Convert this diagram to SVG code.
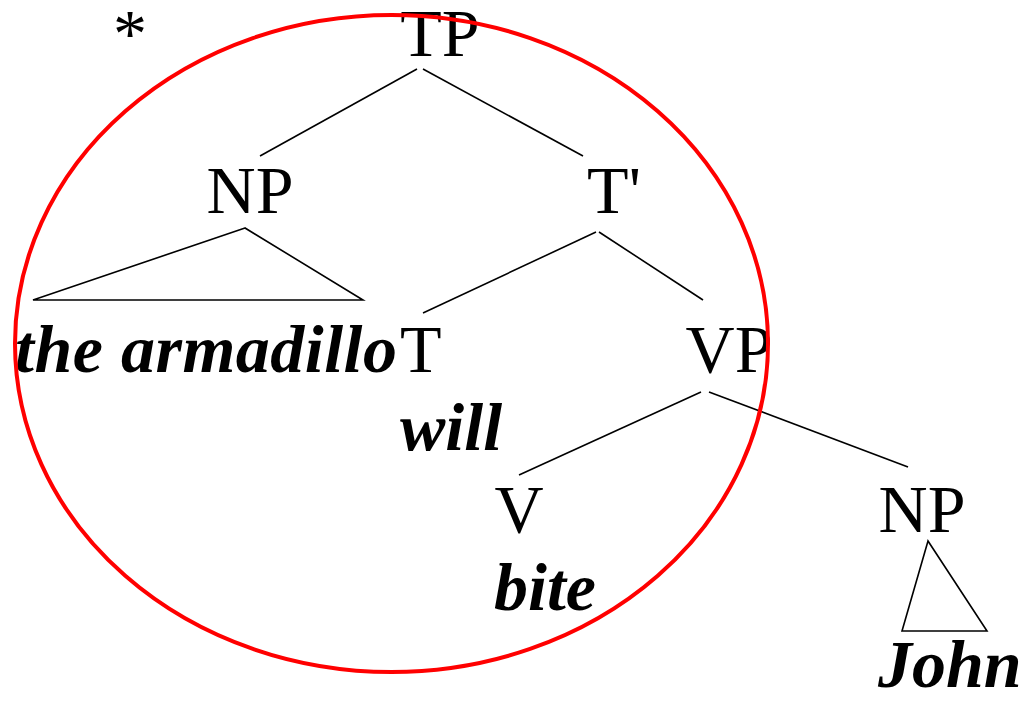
<svg xmlns="http://www.w3.org/2000/svg" width="1030" height="702" viewBox="0 0 1030 702">
  <style>
    .lbl { font-family: "Liberation Serif", "Times New Roman", serif; font-size: 68px; fill: #000; }
    .word { font-family: "Liberation Serif", "Times New Roman", serif; font-size: 68px; font-weight: bold; font-style: italic; fill: #000; }
    .edge { stroke: #000; stroke-width: 1.6; fill: none; }
    .tri { stroke: #000; stroke-width: 1.6; fill: none; stroke-linejoin: miter; }
  </style>
  <rect width="1030" height="702" fill="#fff"/>

  <!-- ungrammaticality mark -->
  <text class="lbl" x="113" y="56">*</text>

  <!-- branches -->
  <g id="connectors">
    <line class="edge" x1="417" y1="69" x2="260" y2="156"/>
    <line class="edge" x1="423" y1="69" x2="583" y2="156"/>
    <line class="edge" x1="596" y1="232" x2="423" y2="313"/>
    <line class="edge" x1="599" y1="232" x2="703" y2="300"/>
    <line class="edge" x1="701" y1="392" x2="519" y2="475"/>
    <line class="edge" x1="709" y1="392" x2="908" y2="467"/>
    <polygon class="tri" points="245,228 33,300 363,300"/>
    <polygon class="tri" points="928,541 902,631 987,631"/>
  </g>

  <g id="TP"><text class="lbl" x="440" y="56" text-anchor="middle">TP</text></g>
  <g id="NP-subj">
    <text class="lbl" x="250" y="213" text-anchor="middle">NP</text>
    <text class="word" x="15" y="372" textLength="382" lengthAdjust="spacing">the armadillo</text>
  </g>
  <g id="Tbar"><text class="lbl" x="614" y="213" text-anchor="middle">T'</text></g>
  <g id="T">
    <text class="lbl" x="400" y="372">T</text>
    <text class="word" x="400" y="450">will</text>
  </g>
  <g id="VP"><text class="lbl" x="729" y="372" text-anchor="middle">VP</text></g>
  <g id="V">
    <text class="lbl" x="519" y="532" text-anchor="middle">V</text>
    <text class="word" x="494" y="610">bite</text>
  </g>
  <g id="NP-obj">
    <text class="lbl" x="922" y="532" text-anchor="middle">NP</text>
    <text class="word" x="878" y="687">John</text>
  </g>

  <!-- circled constituent -->
  <ellipse cx="391.5" cy="343.5" rx="376.5" ry="328.5" fill="none" stroke="#ff0000" stroke-width="4"/>
</svg>
